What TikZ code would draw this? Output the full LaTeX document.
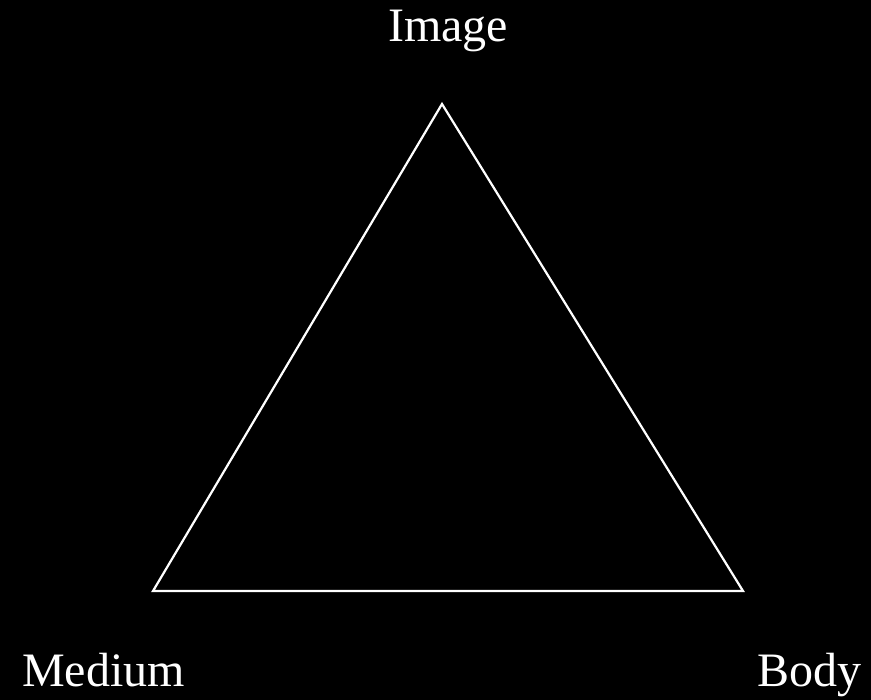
\documentclass[tikz,border=0pt]{standalone}
\usepackage{fontspec}
\setmainfont{Liberation Serif}
\usepackage{tikz}
\usetikzlibrary{positioning,backgrounds}

\begin{document}
\begin{tikzpicture}[
  x=1pt,y=-1pt,
  every node/.style={font=\fontsize{48}{58}\selectfont,text=white,inner sep=0pt},
  edge/.style={draw=white,line width=2.2pt,line join=miter}
]
\fill[black] (0,0) rectangle (871,700);
\coordinate (image) at (442,104);
\coordinate (medium) at (153,591);
\coordinate (body) at (743,591);

\node[anchor=base] (imagelbl) at (448,42) {Image};
\node[anchor=base west] (mediumlbl) at (22,686) {Medium};
\node[anchor=base east] (bodylbl) at (862,686) {Body};

\draw[edge] (image) -- (medium) -- (body) -- cycle;
\end{tikzpicture}
\end{document}
